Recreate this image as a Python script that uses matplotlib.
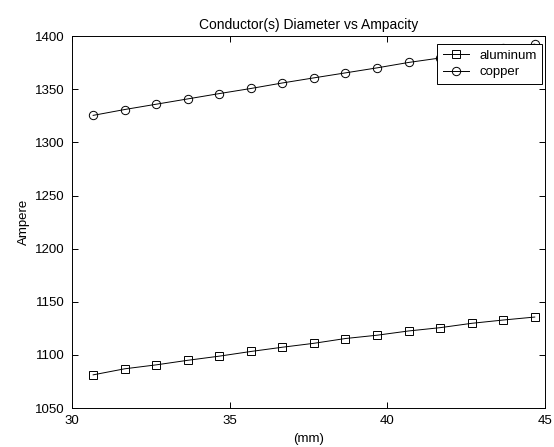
import matplotlib
matplotlib.use("Agg")
import matplotlib.pyplot as plt

plt.rcParams['font.family'] = ['Liberation Sans', 'DejaVu Sans']

diameter_mm = [30.67, 31.67, 32.67, 33.67, 34.67, 35.67, 36.67, 37.67,
               38.67, 39.67, 40.67, 41.67, 42.67, 43.67, 44.67]
aluminum = [1081.3, 1087.0, 1090.7, 1095.0, 1098.9, 1103.3, 1107.3, 1111.0,
            1115.5, 1118.6, 1122.6, 1125.7, 1129.8, 1132.9, 1135.7]
copper = [1325.5, 1331.0, 1336.0, 1341.0, 1346.0, 1350.8, 1356.0, 1360.8,
          1365.5, 1370.2, 1375.3, 1379.5, 1384.0, 1388.5, 1392.5]
xticks = [30, 35, 40, 45]
yticks = [1050, 1100, 1150, 1200, 1250, 1300, 1350, 1400]

fig = plt.figure(figsize=(5.54, 4.47), dpi=100)
ax = fig.add_axes([0.130, 0.087, 0.854, 0.832])

ax.plot(diameter_mm, aluminum, color='black', linewidth=0.7, marker='s',
        markersize=6, markerfacecolor='none', markeredgewidth=0.7, label='aluminum')
ax.plot(diameter_mm, copper, color='black', linewidth=0.7, marker='o',
        markersize=6, markerfacecolor='none', markeredgewidth=0.7, label='copper')

ax.set_xlim(30, 45)
ax.set_ylim(1050, 1400)
ax.set_xticks(xticks)
ax.set_yticks(yticks)
ax.tick_params(direction='in', top=True, right=True, length=4, width=0.7,
               labelsize=9.5)
ax.tick_params(axis='x', pad=5)
ax.tick_params(axis='y', pad=5)
for s in ax.spines.values():
    s.set_linewidth(0.7)

ax.set_title('Conductor(s) Diameter vs Ampacity', fontsize=10, pad=5)
ax.set_xlabel('(mm)', fontsize=9.5, labelpad=4)
ax.set_ylabel('Ampere', fontsize=9.5, labelpad=4)

leg = ax.legend(loc='upper right', bbox_to_anchor=(0.9937, 0.9785),
                borderaxespad=0, fontsize=9.5, fancybox=False, framealpha=1,
                edgecolor='black', handlelength=2.0,
                borderpad=0.4, labelspacing=0.33, handletextpad=0.8)
leg.get_frame().set_linewidth(0.7)

fig.savefig('out.png', dpi=100)
